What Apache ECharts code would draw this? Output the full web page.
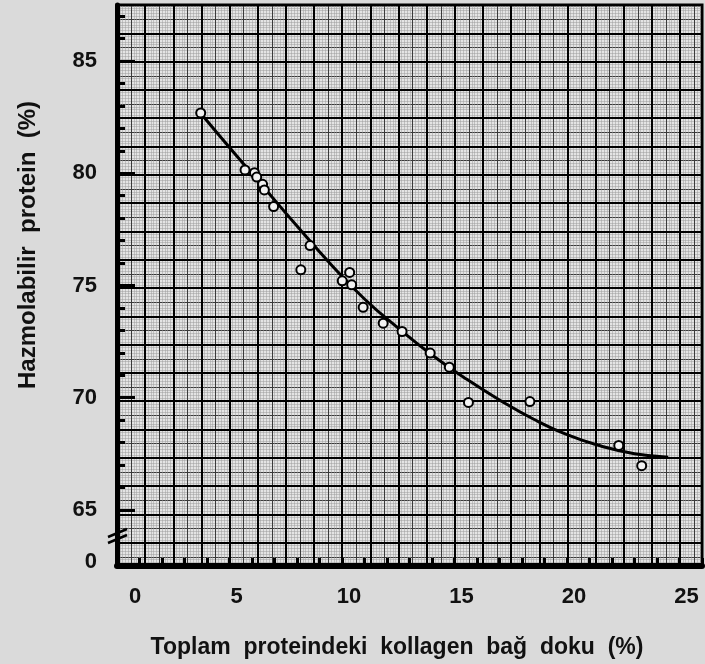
<!DOCTYPE html>
<html><head><meta charset="utf-8">
<script src="https://cdn.jsdelivr.net/npm/echarts@6/dist/echarts.min.js"></script>
<style>html,body{margin:0;padding:0;background:#dadada;}#c{width:705px;height:664px;}</style>
</head><body><div id="c"></div>
<script>
// ---- data ----
const xTickLabels = [0, 5, 10, 15, 20, 25];
const yTickLabelValues = [62.7, 65, 70, 75, 80, 85];
const yTickLabelTexts = ['0', '65', '70', '75', '80', '85'];
const yMajorTicks = [65, 70, 75, 80, 85];
const yMinorTicks = [66, 67, 68, 69, 71, 72, 73, 74, 76, 77, 78, 79, 81, 82, 83, 84, 86, 87];

const pointsX = [3.72, 5.69, 6.11, 6.21, 6.47, 6.55, 6.96, 8.17, 8.58, 10.01, 10.34, 10.43, 10.94, 11.83, 12.67, 13.92, 14.77, 15.62, 18.35, 22.30, 23.32];
const pointsY = [82.69, 80.15, 80.03, 79.83, 79.51, 79.26, 78.52, 75.70, 76.78, 75.21, 75.58, 75.03, 74.03, 73.32, 72.95, 71.99, 71.36, 69.79, 69.83, 67.87, 66.97];

const curveX = [3.7, 5.0, 6.5, 8.0, 9.5, 11.0, 12.5, 14.0, 15.5, 17.0, 18.5, 20.0, 21.5, 23.0, 24.5];
const curveY = [82.7, 81.15, 79.4, 77.65, 75.95, 74.4, 73.1, 71.9, 70.85, 69.9, 69.05, 68.35, 67.85, 67.5, 67.35];

const xTitle = 'Toplam  proteindeki  kollagen  bağ  doku  (%)';
const yTitle = 'Hazmolabilir  protein  (%)';

// ---- chart ----
const chart = echarts.init(document.getElementById('c'), null, {renderer: 'canvas'});
const FONT = 'Liberation Sans, Arial, sans-serif';
const labelStyle = {fontSize: 22, fontWeight: 'bold', color: '#111', fontFamily: FONT};

function paperX(interval, color, width, minor, z) {
  return {
    type: 'value', gridIndex: 0, min: 0, max: 588 / 28.3, interval: interval, z: z,
    axisLine: {show: false}, axisTick: {show: false}, axisLabel: {show: false},
    splitLine: {show: true, lineStyle: {color: color, width: width}},
    minorTick: {show: false, splitNumber: 5},
    minorSplitLine: {show: minor, lineStyle: {color: '#9c9c9c', width: 0.5}}
  };
}
function paperY(interval, color, width, minor, z) {
  return {
    type: 'value', gridIndex: 0, min: 0, max: 561 / 28.3, interval: interval, inverse: true, z: z,
    axisLine: {show: false}, axisTick: {show: false}, axisLabel: {show: false},
    splitLine: {show: true, lineStyle: {color: color, width: width}},
    minorTick: {show: false, splitNumber: 5},
    minorSplitLine: {show: minor, lineStyle: {color: '#9c9c9c', width: 0.5}}
  };
}

const option = {
  animation: false,
  backgroundColor: '#dadada',
  grid: {left: 117, right: 0, top: 5, bottom: 98, show: true, backgroundColor: '#e4e4e4', borderColor: '#000', borderWidth: 3},
  xAxis: [
    {
      type: 'value', min: 0, max: 26, interval: 1, z: 5,
      axisLine: {show: true, onZero: false, lineStyle: {color: '#000', width: 6}},
      axisTick: {show: true, inside: true, length: 8, lineStyle: {color: '#000', width: 3}},
      axisLabel: {
        margin: 20,
        formatter: function (v) {
          if (xTickLabels.indexOf(v) < 0) return '';
          return v === 0 ? '{z|0}' : '{n|' + v + '}';
        },
        rich: {
          z: Object.assign({padding: [0, 0, 0, 36]}, labelStyle),
          n: Object.assign({padding: [0, 0, 0, 14]}, labelStyle)
        }
      },
      splitLine: {show: false}
    },
    paperX(0.5, '#3a3a3a', 1, true, 0),
    paperX(1, '#000', 2, false, 1)
  ],
  yAxis: [
    {
      type: 'value', min: 62.5, max: 87.5, z: 5,
      axisLine: {show: true, onZero: false, lineStyle: {color: '#000', width: 5}},
      axisTick: {show: true, inside: true, length: 18, customValues: yMajorTicks, lineStyle: {color: '#000', width: 3}},
      axisLabel: Object.assign({
        margin: 20,
        customValues: yTickLabelValues,
        formatter: function (v) {
          let best = 0, d = 1e9;
          yTickLabelValues.forEach(function (t, i) { if (Math.abs(t - v) < d) { d = Math.abs(t - v); best = i; } });
          return yTickLabelTexts[best];
        }
      }, labelStyle),
      splitLine: {show: false}
    },
    {
      type: 'value', min: 62.5, max: 87.5, z: 5, position: 'left',
      axisLine: {show: false},
      axisTick: {show: true, inside: true, length: 8, customValues: yMinorTicks, lineStyle: {color: '#000', width: 3}},
      axisLabel: {show: false},
      splitLine: {show: false}
    },
    paperY(0.5, '#3a3a3a', 1, true, 0),
    paperY(1, '#000', 2, false, 1)
  ],
  series: [
    {
      type: 'line', xAxisIndex: 0, yAxisIndex: 0, z: 6,
      data: curveX.map(function (x, i) { return [x, curveY[i]]; }),
      smooth: 0.5, showSymbol: false, symbol: 'none',
      lineStyle: {color: '#000', width: 3}
    },
    {
      type: 'scatter', xAxisIndex: 0, yAxisIndex: 0, z: 7,
      data: pointsX.map(function (x, i) { return [x, pointsY[i]]; }),
      symbol: 'circle', symbolSize: 9,
      itemStyle: {color: '#f2f2f2', borderColor: '#000', borderWidth: 2, opacity: 1}
    }
  ],
  graphic: [
    {
      type: 'text', x: 397, y: 648, z: 10,
      style: {text: xTitle, fontSize: 23, fontWeight: 'bold', fontFamily: FONT, fill: '#111', align: 'center', verticalAlign: 'middle'}
    },
    {
      type: 'text', x: 28, y: 245, rotation: Math.PI / 2, z: 10,
      style: {text: yTitle, fontSize: 24, fontWeight: 'bold', fontFamily: FONT, fill: '#111', align: 'center', verticalAlign: 'middle'}
    },
    {
      type: 'line', z: 100,
      shape: {x1: 108, y1: 543, x2: 127, y2: 535},
      style: {stroke: '#000', lineWidth: 2.5}
    },
    {
      type: 'line', z: 100,
      shape: {x1: 108, y1: 537, x2: 127, y2: 529},
      style: {stroke: '#000', lineWidth: 2.5}
    }
  ]
};
chart.setOption(option);
</script>
</body></html>
